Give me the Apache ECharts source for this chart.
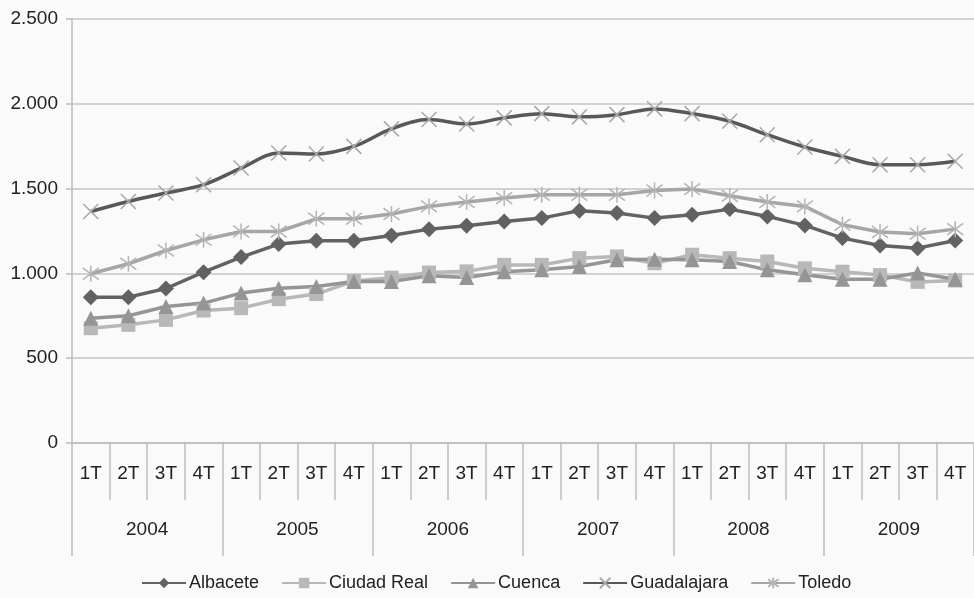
<!DOCTYPE html>
<html>
<head>
<meta charset="utf-8">
<script src="https://cdn.jsdelivr.net/npm/echarts@6/dist/echarts.min.js"></script>
<style>
html,body{margin:0;padding:0;background:#fafafa;}
#chart{width:974px;height:598px;}
</style>
</head>
<body>
<div id="chart"></div>
<script>
var quarters = ['1T','2T','3T','4T','1T','2T','3T','4T','1T','2T','3T','4T','1T','2T','3T','4T','1T','2T','3T','4T','1T','2T','3T','4T'];
var years = ['2004','2005','2006','2007','2008','2009'];
var yTicks = [0, 500, 1000, 1500, 2000, 2500];

var albacete    = [860, 860, 911, 1007, 1096, 1173, 1192, 1192, 1224, 1261, 1281, 1306, 1326, 1370, 1356, 1326, 1346, 1379, 1336, 1283, 1208, 1165, 1149, 1194];
var ciudadReal  = [677, 697, 726, 781, 795, 848, 878, 955, 975, 1005, 1012, 1050, 1050, 1090, 1100, 1060, 1110, 1090, 1070, 1030, 1010, 990, 950, 958];
var cuenca      = [736, 750, 805, 825, 884, 913, 923, 952, 952, 986, 976, 1010, 1021, 1041, 1080, 1084, 1080, 1070, 1021, 992, 966, 966, 1002, 966];
var guadalajara = [1365, 1424, 1474, 1523, 1621, 1710, 1704, 1749, 1852, 1907, 1881, 1917, 1942, 1923, 1936, 1970, 1942, 1897, 1818, 1745, 1690, 1641, 1641, 1661];
var toledo      = [998, 1057, 1135, 1198, 1247, 1247, 1322, 1322, 1350, 1395, 1421, 1444, 1464, 1464, 1464, 1489, 1497, 1458, 1421, 1395, 1287, 1244, 1234, 1261];

var font = 'Liberation Sans, Arial, sans-serif';
var txt = '#222';
var FS = 19;

function fmt(v){ return String(v).replace(/\B(?=(\d{3})+(?!\d))/g, '.'); }

var X_PATH = 'path://M0,0L10,10M10,0L0,10';
var AST_PATH = 'path://M1,1L9,9M9,1L1,9M5,-0.5L5,10.5';

function series(name, data, color, symbol, size, extra){
  var s = {
    name: name, type: 'line', data: data,
    symbol: symbol, symbolSize: size,
    lineStyle: {color: color, width: 3.5},
    itemStyle: {color: color},
    emphasis: {disabled: true},
    animation: false
  };
  if (extra) for (var k in extra) s[k] = extra[k];
  return s;
}

var chart = echarts.init(document.getElementById('chart'), null, {renderer: 'canvas'});
chart.setOption({
  backgroundColor: '#fafafa',
  animation: false,
  grid: {left: 72, top: 19, width: 905, height: 424, containLabel: false},
  legend: {
    bottom: 1, left: 136,
    itemWidth: 44, itemHeight: 13, itemGap: 22,
    textStyle: {fontFamily: font, fontSize: 18, color: txt, padding: [0,0,0,-2]},
    data: ['Albacete','Ciudad Real','Cuenca','Guadalajara','Toledo']
  },
  xAxis: [
    {
      type: 'category', data: quarters, position: 'bottom', boundaryGap: true,
      axisLine: {show: true, lineStyle: {color: '#bdbdbd', width: 1.5}},
      axisTick: {show: true, length: 57, interval: 0, lineStyle: {color: '#bdbdbd', width: 1.5}},
      axisLabel: {interval: 0, margin: 21, fontFamily: font, fontSize: FS, color: txt},
      splitLine: {show: false}
    },
    {
      type: 'category', data: years, position: 'bottom', boundaryGap: true,
      axisLine: {show: false},
      axisTick: {show: true, length: 113, interval: 0, lineStyle: {color: '#bdbdbd', width: 1.5}},
      axisLabel: {interval: 0, margin: 77, fontFamily: font, fontSize: FS, color: txt},
      splitLine: {show: false}
    }
  ],
  yAxis: {
    type: 'value', min: yTicks[0], max: yTicks[yTicks.length-1], interval: 500,
    axisLine: {show: true, lineStyle: {color: '#bdbdbd', width: 1.5}},
    axisTick: {show: true, length: 6, inside: false, lineStyle: {color: '#bdbdbd', width: 1.5}},
    axisLabel: {margin: 14, fontFamily: font, fontSize: FS, color: txt, formatter: function(v){ return fmt(v); }},
    splitLine: {show: true, lineStyle: {color: '#c4c4c4', width: 1.5}}
  },
  series: [
    series('Albacete', albacete, '#626262', 'diamond', 16),
    series('Ciudad Real', ciudadReal, '#b8b8b8', 'rect', 14),
    series('Cuenca', cuenca, '#959595', 'triangle', 15),
    series('Guadalajara', guadalajara, '#585858', X_PATH, 15, {
      smooth: 0.35,
      itemStyle: {color: 'rgba(0,0,0,0)', borderColor: '#a8a8a8', borderWidth: 1.5}
    }),
    series('Toledo', toledo, '#a6a6a6', AST_PATH, 16, {
      itemStyle: {color: 'rgba(0,0,0,0)', borderColor: '#b4b4b4', borderWidth: 1.5}
    })
  ]
});
</script>
</body>
</html>
